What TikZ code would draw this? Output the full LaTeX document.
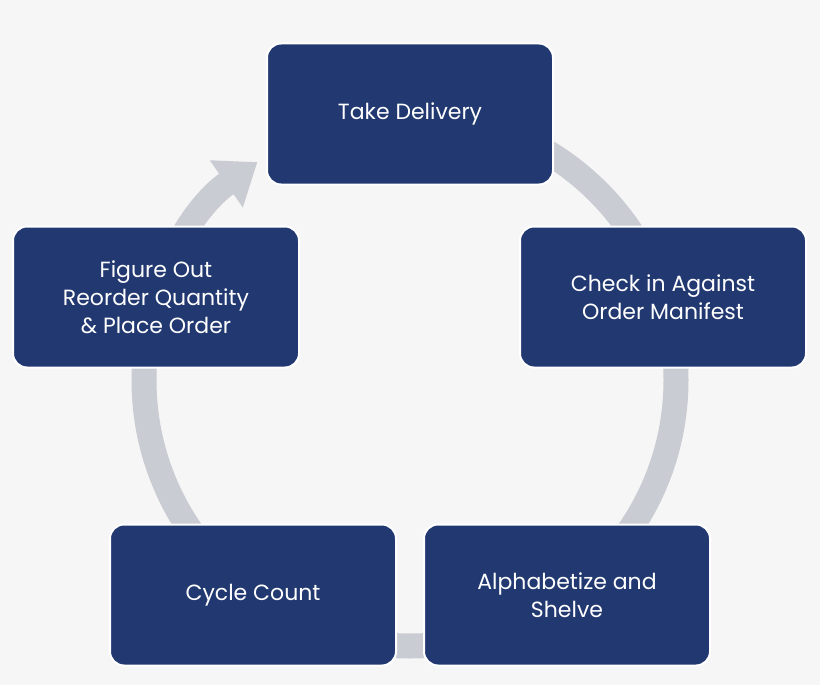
\documentclass[tikz,border=0pt]{standalone}
\usepackage{fontspec}
\setmainfont{Poppins}
\usetikzlibrary{arrows.meta,calc}
\definecolor{bg}{RGB}{246,246,247}
\definecolor{ring}{RGB}{201,204,210}
\definecolor{navy}{RGB}{33,56,112}
\begin{document}
\begin{tikzpicture}[x=1pt,y=-1pt,
  box/.style={draw=white,line width=2pt,fill=navy,rounded corners=14pt,
    minimum width=286pt,minimum height=141pt,text=white,align=center,
    font=\fontsize{22}{28}\selectfont}]
\fill[bg] (0,0) rectangle (820,685);
\coordinate (c) at (410,380);
\draw[ring,line width=25pt,-{Triangle[width=55pt,length=38pt]}]
  ($(c)+(-90:266)$) arc[start angle=-90,end angle=235,radius=266];
\node[box] (td) at (410,114) {Take Delivery};
\node[box] (ck) at (663,297) {Check in Against\\Order Manifest};
\node[box] (al) at (567,595) {Alphabetize and\\Shelve};
\node[box] (cc) at (253,595) {Cycle Count};
\node[box] (fo) at (156,297) {Figure Out\\Reorder Quantity\\\& Place Order};
\end{tikzpicture}
\end{document}
